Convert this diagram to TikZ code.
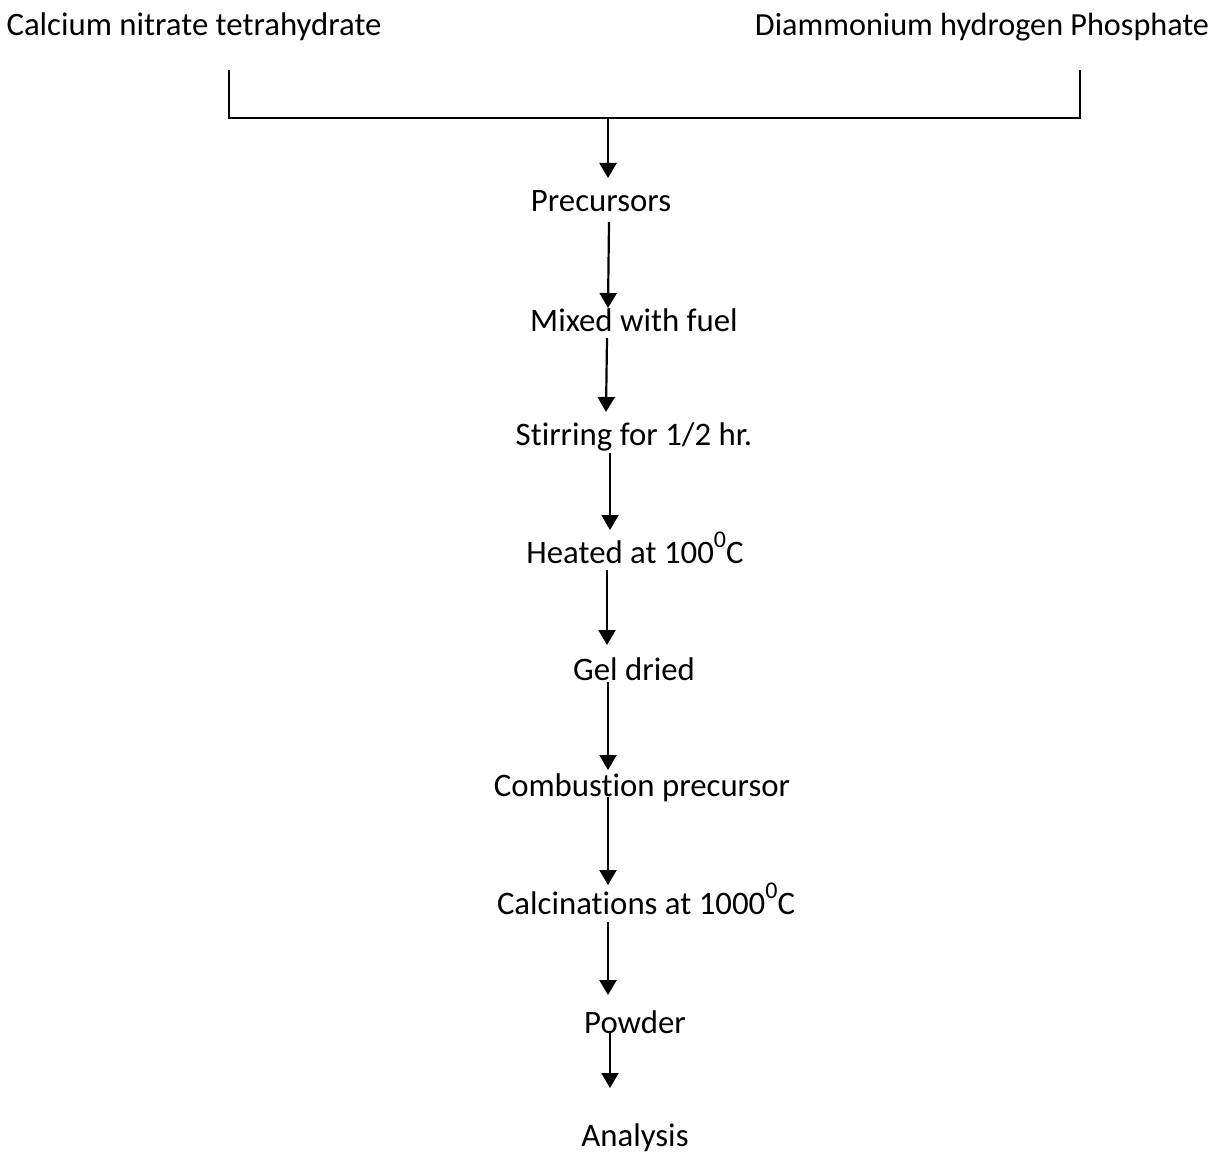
\documentclass[tikz,border=0pt]{standalone}
\usepackage{fontspec}
\setmainfont{Carlito}[RawFeature={-liga,-clig,-calt,-dlig}]
\usetikzlibrary{arrows.meta}
\newcommand\supzero{\raisebox{16pt}{\fontsize{24}{24}\selectfont 0}}
\tikzset{
  lbl/.style={inner sep=0pt, font=\fontsize{32.8}{36}\selectfont, anchor=center},
  arr/.style={line width=2.2pt, -{Triangle[width=17pt,length=15pt]}},
  brk/.style={line width=1.5pt},
}
\begin{document}
\begin{tikzpicture}[x=1pt,y=-1pt]
\useasboundingbox (0,0) rectangle (1212,1155);
\node[lbl] (ca) at (194,27) {Calcium nitrate tetrahydrate};
\node[lbl,font=\fontsize{32.2}{36}\selectfont] (dp) at (982,27) {Diammonium hydrogen Phosphate};
\node[lbl] (pre) at (601,201) {Precursors};
\node[lbl] (mix) at (634,320) {Mixed with fuel};
\node[lbl] (stir) at (634,437) {St\kern0pt irring for 1/2 hr.};
\node[lbl,anchor=base] (heat) at (635,563) {Heated at 100\supzero C};
\node[lbl] (gel) at (634,669) {Gel dried};
\node[lbl] (comb) at (642,788) {Combust\kern0pt ion precursor};
\node[lbl,anchor=base] (calc) at (646,914) {Calcinat\kern0pt ions at 1000\supzero C};
\node[lbl] (pow) at (635,1022) {Powder};
\node[lbl] (ana) at (635,1138) {Analysis};
% bracket
\coordinate (bl) at (229,70);
\coordinate (br) at (1080,70);
\coordinate (bm) at (608,118);
\draw[brk] (bl) |- (bm) -| (br);
% arrow endpoints
\coordinate (t0) at (608,178);
\coordinate (s1) at (609,222); \coordinate (t1) at (608,308);
\coordinate (s2) at (607,338); \coordinate (t2) at (606,412);
\coordinate (s3) at (610,453); \coordinate (t3) at (610,530);
\coordinate (s4) at (607,570); \coordinate (t4) at (607,645);
\coordinate (s5) at (608,682); \coordinate (t5) at (608,770);
\coordinate (s6) at (608,797); \coordinate (t6) at (608,885);
\coordinate (s7) at (608,922); \coordinate (t7) at (608,995);
\coordinate (s8) at (610,1032); \coordinate (t8) at (610,1088);
\draw[arr] (bm) -- (t0);
\draw[arr] (s1) -- (t1);
\draw[arr] (s2) -- (t2);
\draw[arr] (s3) -- (t3);
\draw[arr] (s4) -- (t4);
\draw[arr] (s5) -- (t5);
\draw[arr] (s6) -- (t6);
\draw[arr] (s7) -- (t7);
\draw[arr] (s8) -- (t8);
\end{tikzpicture}
\end{document}
